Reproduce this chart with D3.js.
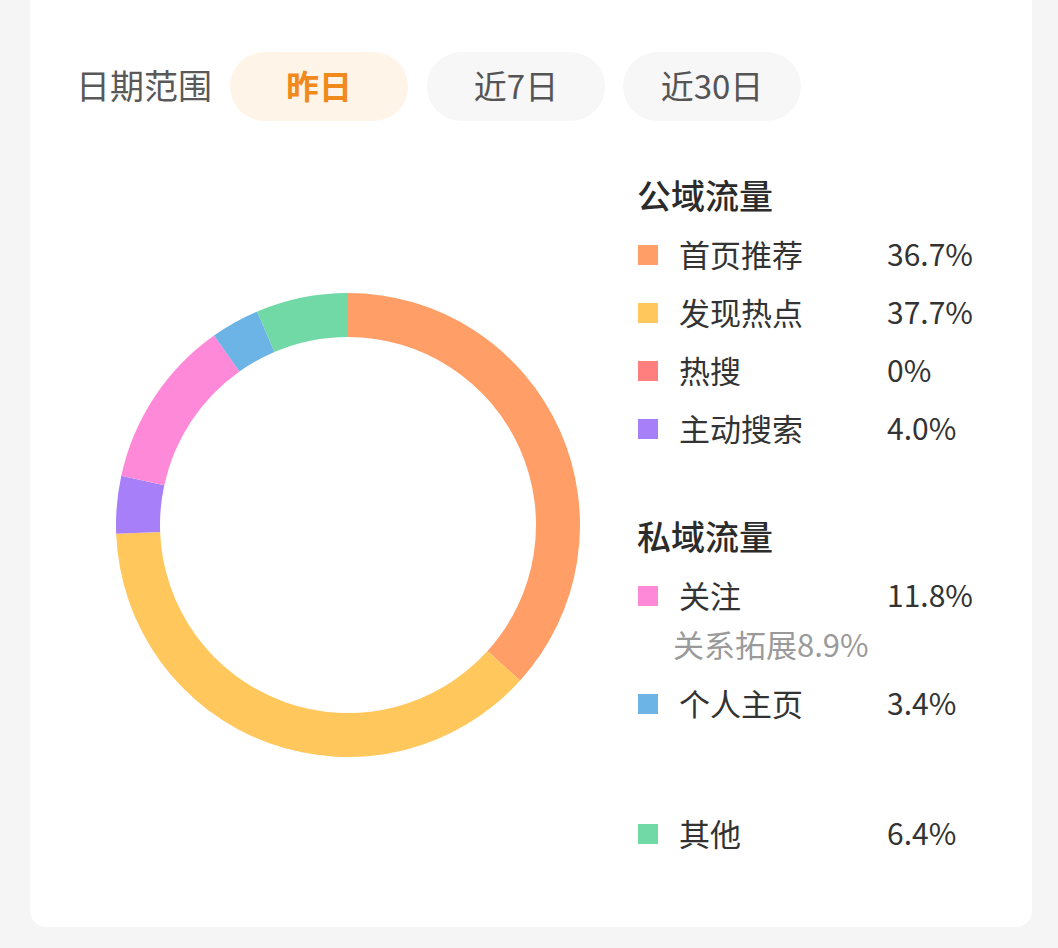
<!DOCTYPE html>
<html><head><meta charset="utf-8">
<script src="https://cdn.jsdelivr.net/npm/d3@7"></script>
<style>
html,body{margin:0;padding:0;background:#f5f5f5;}
svg{display:block;}
text{font-family:"Noto Sans CJK SC","Noto Sans",sans-serif;}
</style></head>
<body>
<svg id="chart" width="1058" height="948"></svg>
<script>
const categories = ["首页推荐","发现热点","热搜","主动搜索","关注","个人主页","其他"];
const values = [36.7, 37.7, 0, 4.0, 11.8, 3.4, 6.4];
const valueLabels = ["36.7%","37.7%","0%","4.0%","11.8%","3.4%","6.4%"];
const groups = ["公域","公域","公域","公域","私域","私域","其他"];
const colors = ["#ff9e66","#ffc75c","#ff7f7f","#a77ff9","#ff89d9","#6cb3e6","#71d9a6"];
const dateButtons = ["昨日","近7日","近30日"];
const subNote = "关系拓展8.9%";

const svg = d3.select("#chart");
// card
svg.append("rect").attr("x",30).attr("y",-20).attr("width",1002).attr("height",947)
  .attr("rx",16).attr("fill","#ffffff");

// date range
svg.append("text").attr("x",76).attr("y",84).attr("dominant-baseline","central")
  .attr("font-size",34).attr("fill","#595959").text("日期范围");
const bx = [230,427,623];
dateButtons.forEach((b,i)=>{
  const g = svg.append("g");
  g.append("rect").attr("x",bx[i]).attr("y",52).attr("width",178).attr("height",69)
    .attr("rx",34.5).attr("fill", i===0 ? "#fff4e8" : "#f7f7f7");
  g.append("text").attr("x",bx[i]+89).attr("y",85).attr("text-anchor","middle")
    .attr("dominant-baseline","central").attr("font-size",33)
    .attr("font-weight", i===0 ? 700 : 400)
    .attr("fill", i===0 ? "#f08a1c" : "#555555").text(b);
});

// donut
const cx = 348, cy = 525;
const pie = d3.pie().sort(null).value(d=>d.v);
const arc = d3.arc().innerRadius(188).outerRadius(232);
const data = categories.map((c,i)=>({c, v:values[i], color:colors[i]}));
svg.append("g").attr("transform",`translate(${cx},${cy})`)
  .selectAll("path").data(pie(data)).join("path")
  .attr("d",arc).attr("fill",d=>d.data.color);

// legend
const lx = 638, labelX = 679, valX = 887;
function title(t,y){
  svg.append("text").attr("x",lx-1).attr("y",y).attr("dominant-baseline","central")
    .attr("font-size",34).attr("font-weight",500).attr("fill","#2b2b2b").text(t);
}
title("公域流量",194);
title("私域流量",535);
const rowY = [255,313,371,429,596,704,834];
data.forEach((d,i)=>{
  const y = rowY[i];
  svg.append("rect").attr("x",lx).attr("y",y-10).attr("width",20).attr("height",20).attr("fill",d.color);
  svg.append("text").attr("x",labelX).attr("y",y-2).attr("dominant-baseline","central")
    .attr("font-size",31).attr("fill","#333333").text(d.c);
  svg.append("text").attr("x",valX).attr("y",y-2).attr("dominant-baseline","central")
    .attr("font-size",30).attr("fill","#333333").text(valueLabels[i]);
});
svg.append("text").attr("x",673).attr("y",643).attr("dominant-baseline","central")
  .attr("font-size",31).attr("fill","#9a9a9a").text(subNote);
</script>
</body></html>
